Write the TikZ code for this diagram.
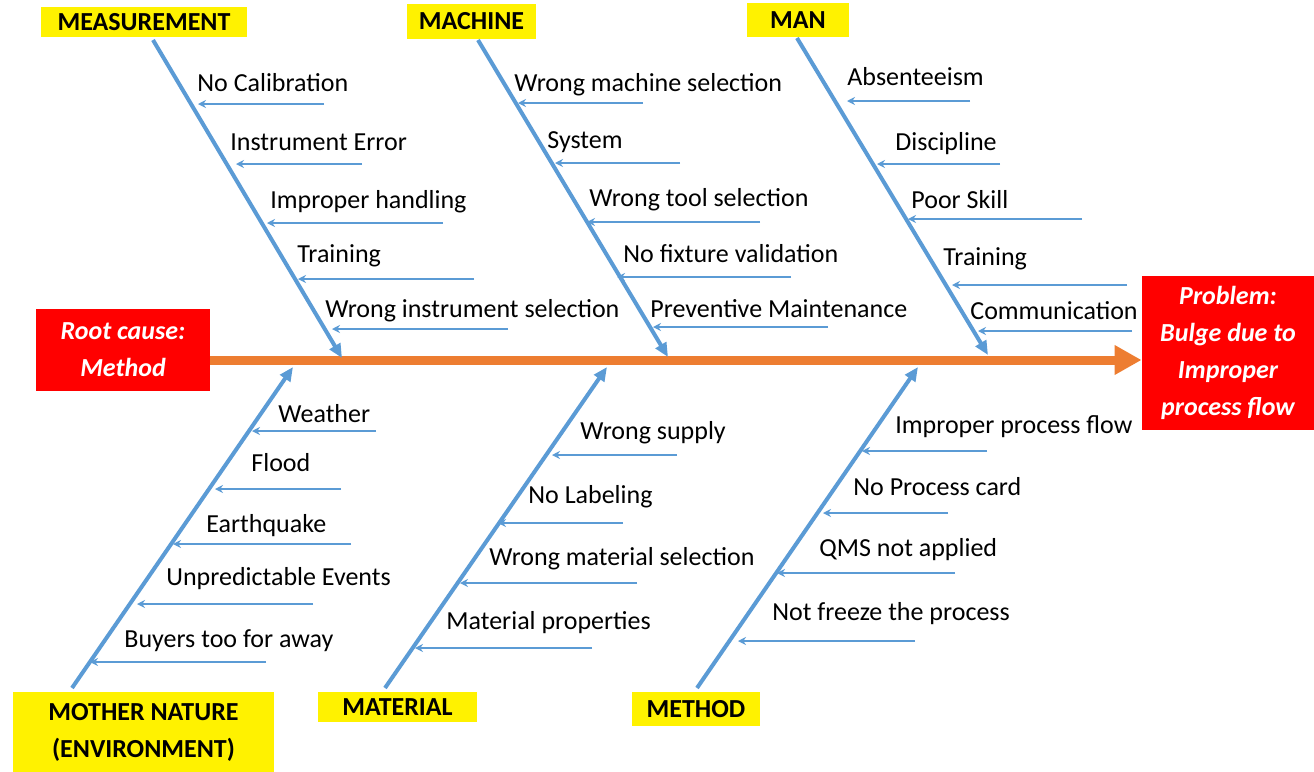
\documentclass[tikz,border=0pt]{standalone}
\usepackage{fontspec}
\setmainfont{Carlito}
\usetikzlibrary{arrows.meta}

\definecolor{bonecol}{HTML}{5B9BD5}
\definecolor{spinecol}{HTML}{ED7D31}

\tikzset{
  cat/.style={fill=yellow, inner sep=0pt, align=center,
    font=\fontsize{13}{18.5}\selectfont\bfseries},
  redbox/.style={fill=red, text=white, inner sep=0pt, align=center,
    font=\fontsize{13}{18.5}\selectfont\bfseries\itshape},
  bone/.style={draw=bonecol, line width=2pt, -{Triangle[length=7pt,width=6pt]}},
  sub/.style={draw=bonecol, line width=1pt, -{Stealth[length=4pt,width=4pt]}},
  cause/.style={anchor=base west, inner sep=0pt, font=\fontsize{13}{18.5}\selectfont},
}

\begin{document}
\begin{tikzpicture}[x=0.5pt, y=-0.5pt]
  \useasboundingbox (0,0) rectangle (1314,772);

  % Tail and head
  \node[redbox, minimum width=87pt, minimum height=41pt] (root) at (123,350) {Root cause:\\Method};
  \node[redbox, minimum width=86pt, minimum height=77pt] (problem) at (1228,353) {Problem:\\Bulge due to\\Improper\\process flow};

  % Spine
  \draw[spinecol, line width=4.5pt, -{Triangle[length=13.5pt,width=14pt]}]
    (root.east |- 0,360) -- (problem.west |- 0,360);

  % Categories
  \node[cat, minimum width=103pt, minimum height=15pt] (measure) at (144,22) {MEASUREMENT};
  \node[cat, minimum width=64.5pt, minimum height=17.5pt] (machine) at (471.5,21.5) {MACHINE};
  \node[cat, minimum width=51pt, minimum height=17pt] (man) at (798,20) {MAN};
  \node[cat, minimum width=130.5pt, minimum height=40pt] (nature) at (143.5,732) {MOTHER NATURE\\(ENVIRONMENT)};
  \node[cat, minimum width=79.5pt, minimum height=15pt] (material) at (397.5,707) {MATERIAL};
  \node[cat, minimum width=64pt, minimum height=17pt] (method) at (696,709) {METHOD};

  % Bones
  \coordinate (measure-a) at (153,40);  \coordinate (measure-b) at (342,358);
  \coordinate (machine-a) at (478,40);  \coordinate (machine-b) at (668,357);
  \coordinate (man-a) at (797,38);      \coordinate (man-b) at (988,355);
  \coordinate (nature-a) at (72,688);   \coordinate (nature-b) at (293,367);
  \coordinate (material-a) at (385,688); \coordinate (material-b) at (607,367);
  \coordinate (method-a) at (697,688);  \coordinate (method-b) at (918,367);
  \foreach \b in {measure,machine,man,nature,material,method}
    \draw[bone] (\b-a) -- (\b-b);

  % Measurement
  \foreach \i/\txt/\y/\xr/\xl/\xt/\yt in {
      1/No Calibration/104/324/198/197/91,
      2/Instrument Error/164/362/236/230/150,
      3/Improper handling/223/443/267/270/208,
      4/Training/279/474/298/297/262,
      5/Wrong instrument selection/329/508/332/325/317}{
    \coordinate (meas\i-r) at (\xr,\y);
    \coordinate (meas\i-l) at (\xl,\y);
    \draw[sub] (meas\i-r) -- (meas\i-l);
    \node[cause] (meas\i) at (\xt,\yt) {\txt};
  }

  % Machine
  \foreach \i/\txt/\y/\xr/\xl/\xt/\yt in {
      1/Wrong machine selection/103/643/518/514/91,
      2/System/163/680/555/547/148,
      3/Wrong tool selection/222/760/587/589/206,
      4/No fixture validation/277/791/617/623/262,
      5/Preventive Maintenance/327/828/653/650/317}{
    \coordinate (mach\i-r) at (\xr,\y);
    \coordinate (mach\i-l) at (\xl,\y);
    \draw[sub] (mach\i-r) -- (mach\i-l);
    \node[cause] (mach\i) at (\xt,\yt) {\txt};
  }

  % Man
  \foreach \i/\txt/\y/\xr/\xl/\xt/\yt in {
      1/Absenteeism/101/970/847/847/85,
      2/Discipline/164/1000/877/895/150,
      3/Poor Skill/219/1082/908/911/208,
      4/Training/285/1127/952/943/265,
      5/Communication/331/1132/978/970/319}{
    \coordinate (man\i-r) at (\xr,\y);
    \coordinate (man\i-l) at (\xl,\y);
    \draw[sub] (man\i-r) -- (man\i-l);
    \node[cause] (man\i) at (\xt,\yt) {\txt};
  }

  % Mother nature
  \foreach \i/\txt/\y/\xr/\xl/\xt/\yt in {
      1/Weather/431/376/252/278/422,
      2/Flood/489/341/215/251/471,
      3/Earthquake/544/351/173/206/532,
      4/Unpredictable Events/604/313/137/166/585,
      5/Buyers too for away/662/266/90/124/647}{
    \coordinate (nat\i-r) at (\xr,\y);
    \coordinate (nat\i-l) at (\xl,\y);
    \draw[sub] (nat\i-r) -- (nat\i-l);
    \node[cause] (nat\i) at (\xt,\yt) {\txt};
  }

  % Material
  \foreach \i/\txt/\y/\xr/\xl/\xt/\yt in {
      1/Wrong supply/455/677/552/580/439,
      2/No Labeling/523/623/498/528/503,
      3/Wrong material selection/583/637/460/489/565,
      4/Material properties/648/592/415/446/629}{
    \coordinate (mat\i-r) at (\xr,\y);
    \coordinate (mat\i-l) at (\xl,\y);
    \draw[sub] (mat\i-r) -- (mat\i-l);
    \node[cause] (mat\i) at (\xt,\yt) {\txt};
  }

  % Method
  \foreach \i/\txt/\y/\xr/\xl/\xt/\yt in {
      1/Improper process flow/451/987/862/895/433,
      2/No Process card/513/948/823/853/495,
      3/QMS not applied/573/955/777/819/556,
      4/Not freeze the process/641/915/738/772/620}{
    \coordinate (meth\i-r) at (\xr,\y);
    \coordinate (meth\i-l) at (\xl,\y);
    \draw[sub] (meth\i-r) -- (meth\i-l);
    \node[cause] (meth\i) at (\xt,\yt) {\txt};
  }
\end{tikzpicture}
\end{document}
